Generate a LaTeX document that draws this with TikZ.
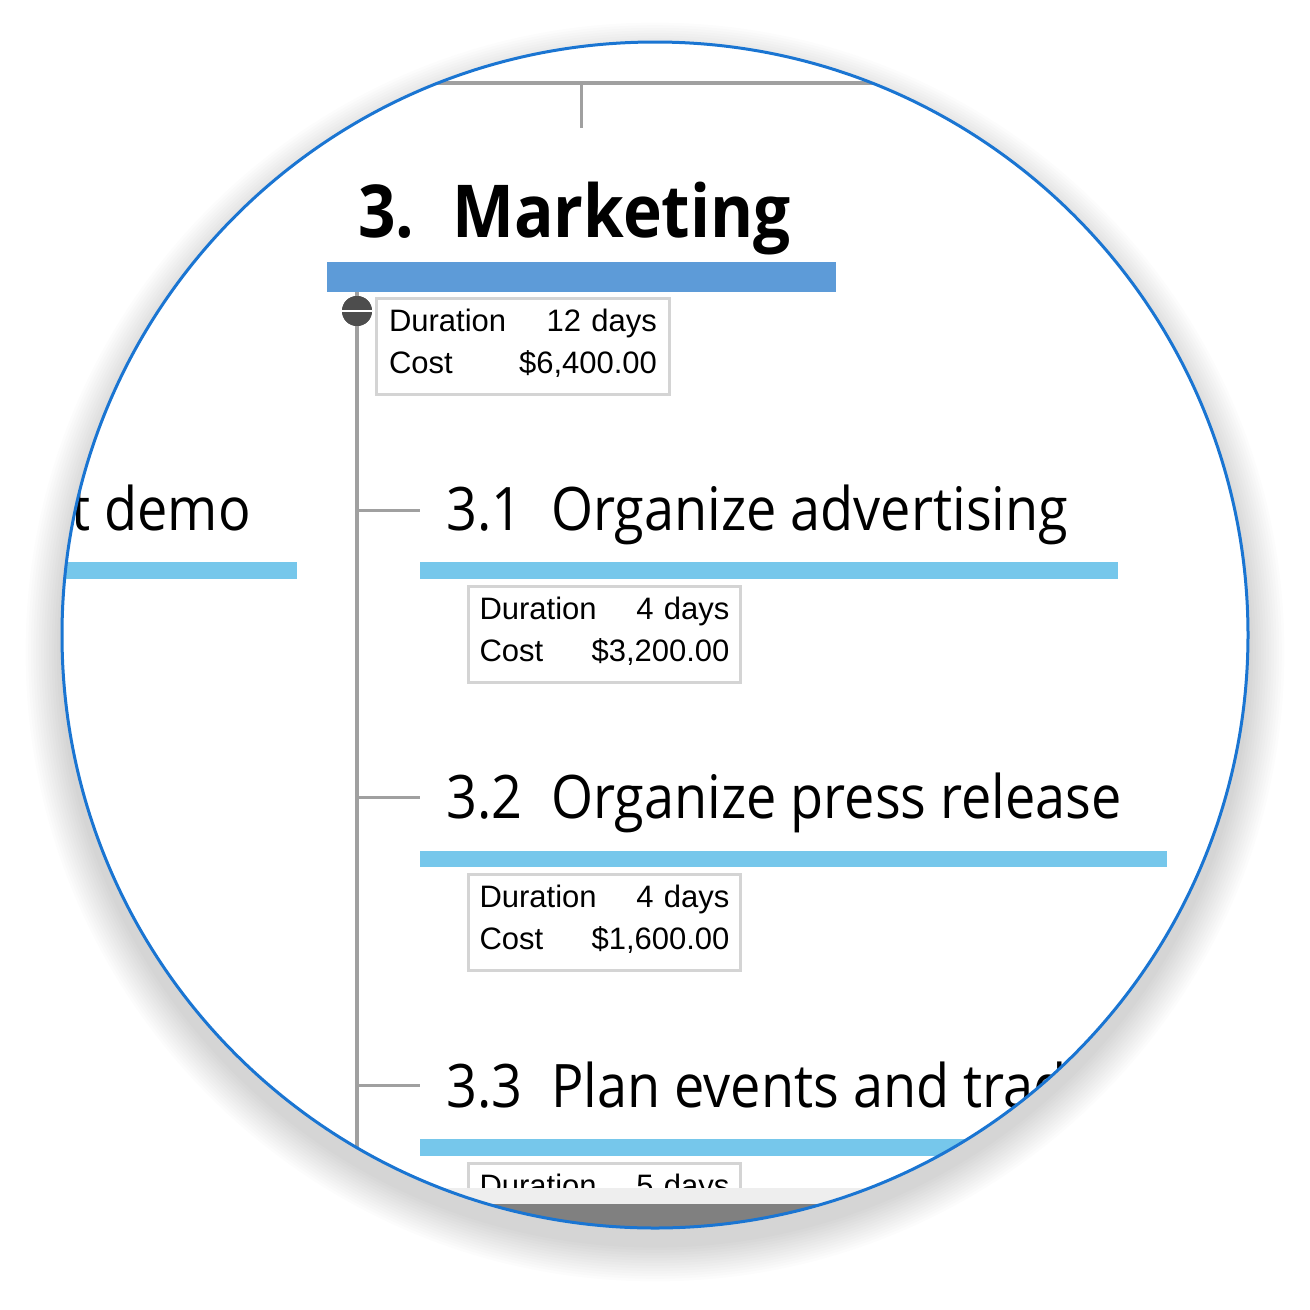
\documentclass[tikz,border=0pt]{standalone}
\usepackage{fontspec}
\setmainfont{Open Sans}
\newfontfamily\wbsfont[FakeStretch=0.9]{Open Sans}
\newfontfamily\infofont{Liberation Sans}
\definecolor{ringblue}{HTML}{1A75D2}
\definecolor{linegray}{HTML}{A0A0A0}
\definecolor{mainbar}{HTML}{5D9BD8}
\definecolor{subbar}{HTML}{76C7EB}
\definecolor{boxgray}{HTML}{D4D4D4}
\definecolor{knob}{HTML}{4D4D4D}
\definecolor{bandlight}{HTML}{EEEEEE}
\definecolor{banddark}{HTML}{808080}

\begin{document}
\begin{tikzpicture}[x=1pt, y=-1pt,
    link/.style={draw=linegray, line width=4pt},
    bar/.style={fill=subbar, inner sep=0pt, minimum height=17pt, anchor=north west},
    info/.style={draw=boxgray, line width=3pt, fill=white, anchor=north west, text width=250pt,
        inner xsep=11pt, inner ysep=8pt, text height=25pt, text depth=55pt, align=left,
        font=\infofont\fontsize{31}{42}\selectfont},
    title/.style={anchor=base west, inner sep=0pt, font=\wbsfont\fontsize{60}{72}\selectfont}
]
    \useasboundingbox (0,0) rectangle (1310,1310);

    % soft shadow
    \foreach \i in {1,...,14}
        \fill[black, opacity=0.011] (655,652) circle[radius=593+\i*2.6];
    \fill[white] (655,635) circle[radius=593];

    \begin{scope}
        \clip (655,635) circle[radius=593];

        % line from the parent
        \coordinate (tl) at (0,83);
        \coordinate (tr) at (1310,83);
        \coordinate (tj) at (581,83);
        \coordinate (tstub) at (581,128);
        \draw[link] (tl) -- (tr);
        \draw[link, line width=3pt] (tj) -- (tstub);

        % 3. Marketing
        \node[title, font=\wbsfont\bfseries\fontsize{73}{80}\selectfont] (t3) at (358,237) {\makebox[94pt][l]{3.}Marketing};
        \node[bar, fill=mainbar, minimum width=509pt, minimum height=30pt] (b3) at (327,262) {};
        \node[circle, fill=knob, minimum size=30pt, inner sep=0pt] (tog) at (357,311) {};
        \coordinate (vend) at (357,1200);
        \draw[link] (tog |- b3.south) -- (vend);
        \node[circle, fill=knob, minimum size=30pt, inner sep=0pt] at (tog) {};
        \draw[white, line width=2.5pt] (tog.west) -- (tog.east);
        \node[info, text width=268pt, inner xsep=12.5pt] (d3) at (375,297) {Duration\hfill 12 days\\Cost\hfill \$6,400.00};

        % left neighbour
        \node[title, anchor=base east] (t2x) at (251,530) {t demo};
        \node[bar, anchor=north east, minimum width=300pt] (b2x) at (297,562) {};

        % 3.1
        \coordinate (j31) at (357,510);
        \node[title] (t31) at (446,530) {\makebox[105pt][l]{3.1}Organize advertising};
        \node[bar, minimum width=698pt] (b31) at (420,562) {};
        \draw[link, line width=3pt] (j31) -- (b31.west |- j31);
        \node[info] (d31) at (467,585) {Duration\hfill 4 days\\Cost\hfill \$3,200.00};

        % 3.2
        \coordinate (j32) at (357,797);
        \node[title] (t32) at (446,818) {\makebox[105pt][l]{3.2}Organize press release};
        \node[bar, minimum width=747pt, minimum height=16pt] (b32) at (420,851) {};
        \draw[link, line width=3pt] (j32) -- (b32.west |- j32);
        \node[info] (d32) at (467,873) {Duration\hfill 4 days\\Cost\hfill \$1,600.00};

        % 3.3
        \coordinate (j33) at (357,1085);
        \node[title] (t33) at (446,1107) {\makebox[105pt][l]{3.3}Plan events and trad};
        \node[bar, minimum width=800pt] (b33) at (420,1139) {};
        \draw[link, line width=3pt] (j33) -- (b33.west |- j33);
        \node[info] (d33) at (467,1162) {Duration\hfill 5 days\\Cost\hfill \$};

        % scroll bar
        \fill[bandlight] (0,1188) rectangle (1310,1204);
        \fill[banddark] (0,1204) rectangle (1310,1310);
    \end{scope}

    \draw[ringblue, line width=3pt] (655,635) circle[radius=593];
\end{tikzpicture}
\end{document}
